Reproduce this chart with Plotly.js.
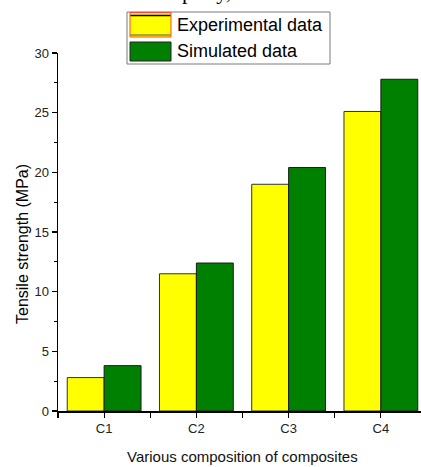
<!DOCTYPE html>
<html>
<head>
<meta charset="utf-8">
<script src="https://cdn.plot.ly/plotly-3.0.1.min.js"></script>
<style>
html,body{margin:0;padding:0;background:#fff;overflow:hidden;}
#chart{width:421px;height:467px;}
</style>
</head>
<body>
<div id="chart"></div>
<script>
const categories = ["C1", "C2", "C3", "C4"];
const experimental = [2.8, 11.5, 19.0, 25.1];
const simulated = [3.8, 12.4, 20.4, 27.8];
const yTicks = [0, 5, 10, 15, 20, 25, 30];

const W = 421, H = 467;
const M = {l: 58, r: 0, t: 53, b: 56};
const pw = W - M.l - M.r, ph = H - M.t - M.b;
const px = x => (x - M.l) / pw;
const py = y => (H - M.b - y) / ph;

const xpos = categories.map((c, i) => i);

const traces = [
  {type: 'bar', name: 'Experimental data', x: xpos, y: experimental,
   marker: {color: '#ffff00', line: {color: '#333333', width: 1}}},
  {type: 'bar', name: 'Simulated data', x: xpos, y: simulated,
   marker: {color: '#008000', line: {color: '#1a1a1a', width: 1}}}
];

const font = 'Liberation Sans, Arial, sans-serif';

const shapes = [
  // legend box
  {type: 'rect', xref: 'paper', yref: 'paper', x0: px(127), x1: px(330), y0: py(64), y1: py(12),
   line: {color: '#7a7a7a', width: 1}, fillcolor: 'rgba(255,255,255,1)', layer: 'above'},
  // experimental swatch
  {type: 'rect', xref: 'paper', yref: 'paper', x0: px(130), x1: px(171), y0: py(37), y1: py(12.5),
   line: {color: '#ff4040', width: 1}, fillcolor: '#ffff00', layer: 'above'},
  {type: 'line', xref: 'paper', yref: 'paper', x0: px(130.5), x1: px(170.5), y0: py(15.5), y1: py(15.5),
   line: {color: '#000000', width: 1.5}, layer: 'above'},
  {type: 'line', xref: 'paper', yref: 'paper', x0: px(130.5), x1: px(170.5), y0: py(35), y1: py(35),
   line: {color: '#555555', width: 1}, layer: 'above'},
  // simulated swatch
  {type: 'rect', xref: 'paper', yref: 'paper', x0: px(130), x1: px(171), y0: py(61), y1: py(42),
   line: {color: '#222222', width: 1}, fillcolor: '#008000', layer: 'above'}
];

const annotations = [
  {xref: 'paper', yref: 'paper', x: px(175), y: py(25), xanchor: 'left', yanchor: 'middle',
   text: 'Experimental data', showarrow: false, font: {family: font, size: 18, color: '#000'}},
  {xref: 'paper', yref: 'paper', x: px(175), y: py(51), xanchor: 'left', yanchor: 'middle',
   text: 'Simulated data', showarrow: false, font: {family: font, size: 18, color: '#000'}},
  {xref: 'paper', yref: 'paper', x: px(22), y: py(244), xanchor: 'center', yanchor: 'middle',
   text: 'Tensile strength (MPa)', textangle: -90, showarrow: false,
   font: {family: font, size: 16, color: '#000'}},
  {xref: 'paper', yref: 'paper', x: px(242), y: py(456), xanchor: 'center', yanchor: 'middle',
   text: 'Various composition of composites', showarrow: false,
   font: {family: font, size: 15, color: '#111'}},
  {xref: 'paper', yref: 'paper', x: px(180), y: py(-9), xanchor: 'left', yanchor: 'middle',
   text: 'perty,', showarrow: false,
   font: {family: 'Liberation Serif, Times New Roman, serif', size: 22, color: '#000'}}
];

const layout = {
  width: W, height: H,
  margin: M,
  paper_bgcolor: '#fff', plot_bgcolor: '#fff',
  showlegend: false,
  barmode: 'group', bargap: 0.2, bargroupgap: 0,
  font: {family: font, color: '#222'},
  xaxis: {
    type: 'linear', range: [-0.5, (W - M.l - M.r) / 92.25 - 0.5],
    tickvals: xpos, ticktext: categories,
    ticks: 'outside', ticklen: 5, tickwidth: 1.2, tickcolor: '#000',
    minor: {tickvals: [-0.5, 0.5, 1.5, 2.5], ticks: 'outside', ticklen: 5, tickwidth: 1.2, tickcolor: '#000', showgrid: false},
    showline: true, linecolor: '#000', linewidth: 1.5,
    showgrid: false, zeroline: false, fixedrange: true,
    tickfont: {family: font, size: 13, color: '#222'}
  },
  yaxis: {
    range: [0, 30], tickvals: yTicks,
    ticks: 'outside', ticklen: 5, tickwidth: 1.2, tickcolor: '#000',
    minor: {dtick: 2.5, ticks: 'outside', ticklen: 3, tickwidth: 1, tickcolor: '#000', showgrid: false},
    showline: true, linecolor: '#000', linewidth: 1.5,
    showgrid: false, zeroline: false, fixedrange: true,
    tickfont: {family: font, size: 13, color: '#222'}
  },
  shapes: shapes,
  annotations: annotations
};

Plotly.newPlot('chart', traces, layout, {staticPlot: true, displayModeBar: false});
</script>
</body>
</html>
